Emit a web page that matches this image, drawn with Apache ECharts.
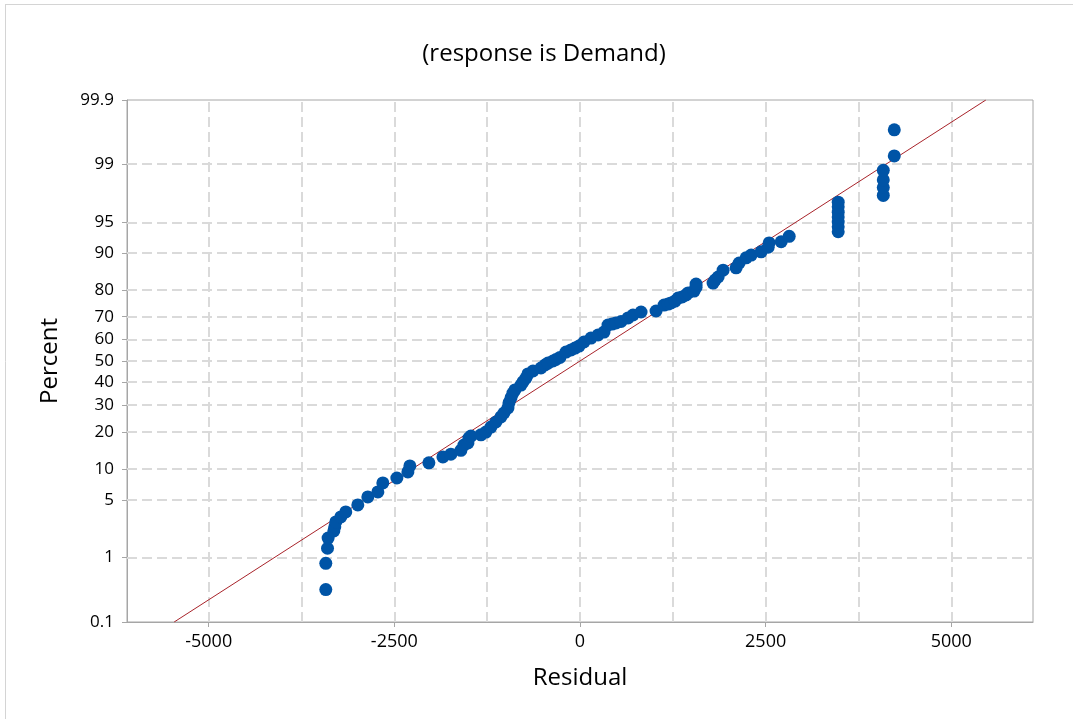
<!DOCTYPE html>
<html>
<head>
<meta charset="utf-8">
<script src="https://cdn.jsdelivr.net/npm/echarts@6/dist/echarts.min.js"></script>
<style>
html,body{margin:0;padding:0;background:#fff;}
#chart{width:1073px;height:719px;}
</style>
</head>
<body>
<div id="chart"></div>
<script>
// ---- data ----
const RESIDUAL = [
  -3423, -3423, -3400, -3392, -3315, -3302, -3288, -3221, -3154, -2992,
  -2857, -2722, -2655, -2466, -2318, -2291, -2035, -1846, -1739, -1604,
  -1563, -1509, -1496, -1469, -1334, -1267, -1199, -1132, -1065, -1024,
  -970, -957, -930, -903, -876, -795, -768, -728, -701, -633,
  -526, -472, -431, -364, -323, -270, -189, -121, -67, -13,
  54, 148, 243, 323, 377, 431, 485, 553, 647, 714,
  822, 1024, 1132, 1186, 1226, 1280, 1321, 1375, 1429, 1456,
  1536, 1563, 1563, 1792, 1819, 1860, 1927, 2102, 2143, 2237,
  2305, 2439, 2534, 2547, 2709, 2817,
  3477, 3477, 3477, 3477, 3477, 3477, 3477,
  4084, 4084, 4084, 4084,
  4232, 4232
];
const PERCENT = [
  0.34, 0.83, 1.33, 1.80, 2.21, 2.48, 2.84, 3.24, 3.70, 4.42,
  5.38, 6.06, 7.44, 8.30, 9.45, 10.7, 11.4, 12.8, 13.5, 14.5,
  16.0, 16.6, 18.1, 18.7, 19.1, 20.0, 21.7, 23.5, 25.4, 26.9,
  28.9, 31.0, 33.1, 35.2, 36.6, 38.8, 40.2, 42.0, 43.9, 45.3,
  46.7, 48.1, 49.0, 50.0, 50.7, 51.7, 54.2, 55.2, 56.1, 57.0,
  58.9, 60.7, 62.1, 63.4, 66.5, 66.9, 67.4, 68.0, 69.5, 70.7,
  71.9, 72.3, 74.6, 75.0, 75.4, 76.1, 77.2, 77.6, 78.3, 79.0,
  79.6, 80.9, 81.9, 82.2, 83.1, 84.0, 85.9, 86.5, 87.7, 88.9,
  89.5, 90.2, 91.1, 91.9, 92.1, 93.0,
  93.7, 94.4, 95.0, 95.6, 96.1, 96.6, 97.0,
  97.5, 98.0, 98.4, 98.8,
  99.24, 99.69
];
// fitted normal line end points (residual, percent)
const FIT_RESIDUAL = [-5465, 5465];
const FIT_PERCENT = [0.1, 99.9];

const X_TICKS = [-5000, -2500, 0, 2500, 5000];
const X_GRID = [-5000, -3750, -2500, -1250, 0, 1250, 2500, 3750, 5000];
const Y_TICKS = [0.1, 1, 5, 10, 20, 30, 40, 50, 60, 70, 80, 90, 95, 99, 99.9];
const Y_GRID = [1, 5, 10, 20, 30, 40, 50, 60, 70, 80, 90, 95, 99];
const X_MIN = -6100, X_MAX = 6100;

const TITLE = '(response is Demand)';
const X_NAME = 'Residual';
const Y_NAME = 'Percent';

// ---- normal probability scale (percent -> z) ----
function normInv(p){
  const a=[-3.969683028665376e+01,2.209460984245205e+02,-2.759285104469687e+02,1.383577518672690e+02,-3.066479806614716e+01,2.506628277459239e+00];
  const b=[-5.447609879822406e+01,1.615858368580409e+02,-1.556989798598866e+02,6.680131188771972e+01,-1.328068155288572e+01];
  const c=[-7.784894002430293e-03,-3.223964580411365e-01,-2.400758277161838e+00,-2.549732539343734e+00,4.374664141464968e+00,2.938163982698783e+00];
  const d=[7.784695709041462e-03,3.224671290700398e-01,2.445134137142996e+00,3.754408661907416e+00];
  const pl=0.02425, ph=1-pl; let q,r;
  if(p<pl){q=Math.sqrt(-2*Math.log(p));return (((((c[0]*q+c[1])*q+c[2])*q+c[3])*q+c[4])*q+c[5])/((((d[0]*q+d[1])*q+d[2])*q+d[3])*q+1);}
  if(p<=ph){q=p-0.5;r=q*q;return (((((a[0]*r+a[1])*r+a[2])*r+a[3])*r+a[4])*r+a[5])*q/(((((b[0]*r+b[1])*r+b[2])*r+b[3])*r+b[4])*r+1);}
  q=Math.sqrt(-2*Math.log(1-p));return -(((((c[0]*q+c[1])*q+c[2])*q+c[3])*q+c[4])*q+c[5])/((((d[0]*q+d[1])*q+d[2])*q+d[3])*q+1);
}
const zOf = pct => normInv(pct/100);
const Y_MIN = zOf(0.1), Y_MAX = zOf(99.9);
const Y_TICK_Z = Y_TICKS.map(zOf);

const points = RESIDUAL.map((r,i)=>[r, zOf(PERCENT[i])]);
const fit = FIT_RESIDUAL.map((r,i)=>[r, zOf(FIT_PERCENT[i])]);

const FONT = '"Open Sans", "Noto Sans", sans-serif';
const AXIS_COLOR = '#a6a6a6';
const GRID_LINE = {type:[10,5], color:'#dadada', width:2};

const chart = echarts.init(document.getElementById('chart'), null, {renderer:'canvas'});
chart.setOption({
  animation:false,
  backgroundColor:'#ffffff',
  textStyle:{fontFamily:FONT},
  title:{
    text:TITLE, left:544, top:42, textAlign:'center', padding:0,
    textStyle:{fontFamily:FONT, fontSize:24, fontWeight:'normal', color:'#000'}
  },
  graphic:[
    {type:'line', shape:{x1:5,y1:4.5,x2:1073,y2:4.5}, style:{stroke:'#d4d4d4', lineWidth:1}, silent:true},
    {type:'line', shape:{x1:5.5,y1:4,x2:5.5,y2:719}, style:{stroke:'#d4d4d4', lineWidth:1}, silent:true}
  ],
  grid:{left:127, right:40, top:100, bottom:97, show:true, borderColor:AXIS_COLOR, borderWidth:1, containLabel:false},
  xAxis:{
    type:'value', min:X_MIN, max:X_MAX,
    name:X_NAME, nameLocation:'middle', nameGap:44,
    nameTextStyle:{fontFamily:FONT, fontSize:24, color:'#000'},
    axisLine:{show:true, onZero:false, lineStyle:{color:AXIS_COLOR, width:1}},
    axisTick:{show:true, customValues:X_TICKS, length:5, inside:false, lineStyle:{color:AXIS_COLOR}},
    axisLabel:{customValues:X_TICKS, fontFamily:FONT, fontSize:18, color:'#000', margin:11,
      formatter:function(v){return String(Math.round(v));}},
    splitLine:{show:false}
  },
  yAxis:{
    type:'value', min:Y_MIN, max:Y_MAX,
    name:Y_NAME, nameLocation:'middle', nameGap:65, nameRotate:90,
    nameTextStyle:{fontFamily:FONT, fontSize:24, color:'#000'},
    axisLine:{show:true, onZero:false, lineStyle:{color:AXIS_COLOR, width:1}},
    axisTick:{show:true, customValues:Y_TICK_Z, length:5, inside:false, lineStyle:{color:AXIS_COLOR}},
    axisLabel:{
      customValues:Y_TICK_Z, fontFamily:FONT, fontSize:17, color:'#000', margin:13,
      formatter:function(v){
        let best=0, bd=Infinity;
        Y_TICK_Z.forEach((z,i)=>{const dd=Math.abs(z-v); if(dd<bd){bd=dd;best=i;}});
        return String(Y_TICKS[best]);
      }
    },
    splitLine:{show:false}
  },
  series:[
    {
      name:'grid', type:'scatter', data:[], silent:true, z:1,
      markLine:{
        silent:true, symbol:'none', animation:false, z:1,
        label:{show:false},
        lineStyle:GRID_LINE,
        emphasis:{disabled:true},
        data: X_GRID.map(v=>({xAxis:v})).concat(Y_GRID.map(p=>({yAxis:zOf(p)})))
      }
    },
    {
      name:'fit', type:'line', data:fit, symbol:'none', z:3, silent:true,
      lineStyle:{color:'#a8232a', width:1}
    },
    {
      name:'Residual', type:'scatter', data:points, z:4,
      symbol:'circle', symbolSize:13,
      itemStyle:{color:'#0054a6', opacity:1}
    }
  ]
});
</script>
</body>
</html>
